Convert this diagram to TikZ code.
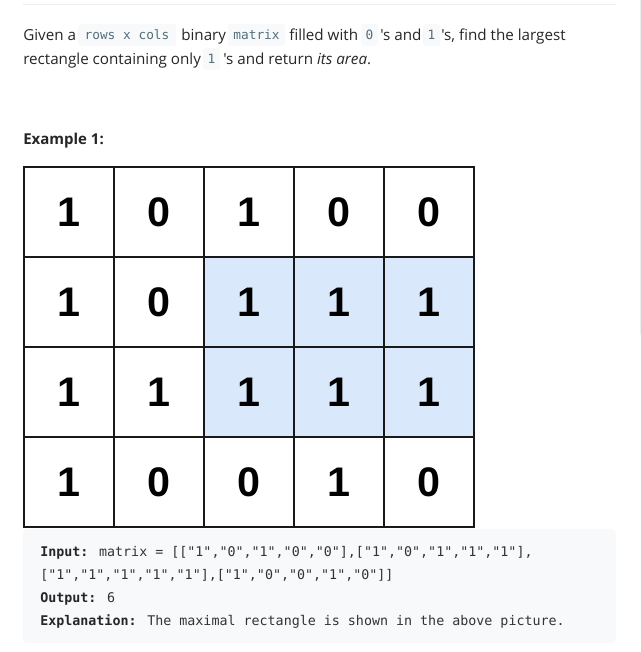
\documentclass[tikz,border=0pt]{standalone}
\usepackage{fontspec}
\setmainfont{Open Sans}[Ligatures=TeXOff]
\newfontfamily\codefont{DejaVu Sans Mono}
\newfontfamily\digitfont{Liberation Sans}
\definecolor{txt}{HTML}{262626}
\definecolor{codetxt}{HTML}{546E7A}
\definecolor{codebg}{HTML}{F7F9FA}
\definecolor{hl}{HTML}{DAE8FC}
\definecolor{rule}{HTML}{EEEEEE}
\definecolor{blk}{HTML}{333333}
\begin{document}
\begin{tikzpicture}[x=0.75pt,y=-0.75pt,
  body/.style={anchor=base west,inner sep=0pt,text=txt,font=\fontsize{11.4}{13}\selectfont},
  icode/.style={fill=codebg,rounded corners=2.25pt,inner sep=0pt,text=codetxt,font=\codefont\fontsize{9.6}{11}\selectfont},
  cell/.style={draw=black!90,line width=1.5pt,minimum width=67.5pt,minimum height=67.5pt,inner sep=0pt,font=\digitfont\bfseries\fontsize{31}{31}\selectfont},
  hcell/.style={cell,fill=hl},
  ctext/.style={anchor=base west,inner sep=0pt,text=blk,font=\codefont\fontsize{10}{12}\selectfont}]
\useasboundingbox (0,0) rectangle (641,652);
% top rule and side line
\coordinate (r1) at (23,5);
\coordinate (r2) at (616,5);
\draw[rule,line width=0.75pt] (r1) -- (r2);
\coordinate (s1) at (640,0);
\coordinate (s2) at (640,335);
\draw[rule,line width=0.75pt] (s1) -- (s2);
% line 1
\node[body] (t1) at (23,40.5) {Given a};
\path[icode] (78,24) rectangle (176,46);
\node[icode,fill=none] (c1) at (127,35) {rows x cols};
\node[body] (t2) at (181,40.5) {binary};
\path[icode] (228,24) rectangle (285,46);
\node[icode,fill=none] (c2) at (256.5,35) {matrix};
\node[body] (t3) at (289,40.5) {filled with};
\path[icode] (361,24) rectangle (378,46);
\node[icode,fill=none] (c3) at (369.5,35) {0};
\node[body] (t4) at (380,40.5) {'s and};
\path[icode] (423,24) rectangle (440,46);
\node[icode,fill=none] (c4) at (431.5,35) {1};
\node[body] (t5) at (441,40.5) {'s, find the largest};
% line 2
\node[body] (t6) at (23,65) {rectangle containing only};
\path[icode] (203,48) rectangle (220,70);
\node[icode,fill=none] (c5) at (211.5,59) {1};
\node[body] (t7) at (223,65) {'s and return \textit{its area}.};
% example
\node[body,font=\bfseries\fontsize{11.25}{13}\selectfont] (ex) at (23,144.5) {Example 1:};
% grid
\node[cell] (m11) at (69,212) {1};
\node[cell] (m12) at (159,212) {0};
\node[cell] (m13) at (249,212) {1};
\node[cell] (m14) at (339,212) {0};
\node[cell] (m15) at (429,212) {0};
\node[cell] (m21) at (69,302) {1};
\node[cell] (m22) at (159,302) {0};
\node[hcell] (m23) at (249,302) {1};
\node[hcell] (m24) at (339,302) {1};
\node[hcell] (m25) at (429,302) {1};
\node[cell] (m31) at (69,392) {1};
\node[cell] (m32) at (159,392) {1};
\node[hcell] (m33) at (249,392) {1};
\node[hcell] (m34) at (339,392) {1};
\node[hcell] (m35) at (429,392) {1};
\node[cell] (m41) at (69,482) {1};
\node[cell] (m42) at (159,482) {0};
\node[cell] (m43) at (249,482) {0};
\node[cell] (m44) at (339,482) {1};
\node[cell] (m45) at (429,482) {0};
% code block
\path[fill=codebg,rounded corners=3pt] (23,529) rectangle (616,643);
\node[ctext] (k1) at (40,556) {\textcolor{txt}{\bfseries Input:} matrix = [["1","0","1","0","0"],["1","0","1","1","1"],};
\node[ctext] (k2) at (40,579.5) {["1","1","1","1","1"],["1","0","0","1","0"]]};
\node[ctext] (k3) at (40,602) {\textcolor{txt}{\bfseries Output:} 6};
\node[ctext] (k4) at (40,625.5) {\textcolor{txt}{\bfseries Explanation:} The maximal rectangle is shown in the above picture.};
\end{tikzpicture}
\end{document}
